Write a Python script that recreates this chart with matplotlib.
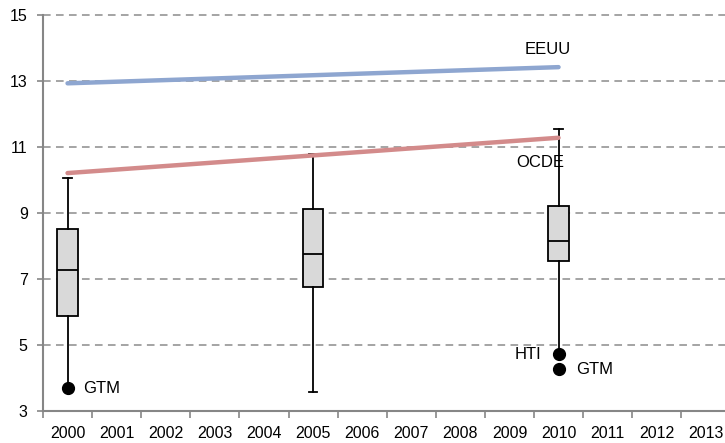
import matplotlib
matplotlib.use("Agg")
import matplotlib.pyplot as plt
from matplotlib.ticker import FixedLocator, NullFormatter, FixedFormatter

plt.rcParams['font.family'] = ['Liberation Sans', 'DejaVu Sans']

# ---- data ----
years = [str(y) for y in range(2000, 2014)]
box_years = ["2000", "2005", "2010"]
box_q1 = [5.88, 6.76, 7.55]
box_med = [7.26, 7.77, 8.14]
box_q3 = [8.52, 9.13, 9.21]
box_whislo = [3.71, 3.58, 4.73]
box_whishi = [10.05, 10.80, 11.54]
outlier_years = ["2000", "2010", "2010"]
outlier_vals = [3.71, 4.73, 4.28]
outlier_labels = ["GTM", "HTI", "GTM"]

line_years = ["2000", "2010"]
eeuu_vals = [12.93, 13.42]
ocde_vals = [10.21, 11.28]

yticks = [3, 5, 7, 9, 11, 13, 15]

# ---- figure ----
W, H = 725, 443
fig = plt.figure(figsize=(W / 100, H / 100), dpi=100)
left, bottom, top = 43, 411, 15
unit = 49.1
ax = fig.add_axes([left / W, (H - bottom) / H, 14 * unit / W, (bottom - top) / H])

pos = {y: i for i, y in enumerate(years)}

stats = []
for i, yr in enumerate(box_years):
    stats.append(dict(med=box_med[i], q1=box_q1[i], q3=box_q3[i],
                      whislo=box_whislo[i], whishi=box_whishi[i], fliers=[]))
ax.bxp(stats, positions=[pos[y] for y in box_years], widths=0.41,
       capwidths=0.17, patch_artist=True, showfliers=False,
       boxprops=dict(facecolor='#d9d9d9', edgecolor='black', linewidth=1.3),
       medianprops=dict(color='black', linewidth=1.3),
       whiskerprops=dict(color='black', linewidth=1.3),
       capprops=dict(color='black', linewidth=1.3), zorder=3)

ax.plot([pos[y] for y in outlier_years], outlier_vals, 'o', color='black',
        markersize=8.5, zorder=5, linestyle='none')

ax.plot([pos[y] for y in line_years], eeuu_vals, color='#8ea6d0', linewidth=3.2,
        solid_capstyle='round', zorder=4)
ax.plot([pos[y] for y in line_years], ocde_vals, color='#d38b8b', linewidth=3.2,
        solid_capstyle='round', zorder=4)

fs = 11.5
afs = 12
ax.text(pos["2010"] - 0.22, 13.95, "EEUU", fontsize=afs, ha='center', va='center')
ax.text(pos["2010"] - 0.37, 10.52, "OCDE", fontsize=afs, ha='center', va='center')
ax.text(pos["2010"] - 0.63, 4.7, "HTI", fontsize=afs, ha='center', va='center')
ax.text(pos["2010"] + 0.73, 4.25, "GTM", fontsize=afs, ha='center', va='center')
ax.text(pos["2000"] + 0.31, 3.67, "GTM", fontsize=afs, ha='left', va='center')

# axes styling
ax.set_xlim(-0.5, 13.5)
ax.set_ylim(3, 15)
ax.set_yticks(yticks)
ax.set_yticklabels([str(v) for v in yticks], fontsize=fs)
ax.xaxis.set_major_locator(FixedLocator([i - 0.5 for i in range(15)]))
ax.xaxis.set_major_formatter(NullFormatter())
ax.xaxis.set_minor_locator(FixedLocator(list(range(14))))
ax.xaxis.set_minor_formatter(FixedFormatter(years))
ax.tick_params(axis='x', which='minor', length=0, pad=11, labelsize=fs)
ax.tick_params(axis='x', which='major', length=5, width=1.2, color='#868686', direction='out')
ax.tick_params(axis='y', length=4, width=1.2, color='#868686', pad=7)

for s in ['top', 'right']:
    ax.spines[s].set_visible(False)
for s in ['left', 'bottom']:
    ax.spines[s].set_color('#868686')
    ax.spines[s].set_linewidth(1.5)

for v in yticks[1:]:
    ax.axhline(v, color='#8c8c8c', linewidth=1.1, linestyle=(0, (5, 3.5)), zorder=1, clip_on=False)

fig.savefig("out.png", dpi=100)
